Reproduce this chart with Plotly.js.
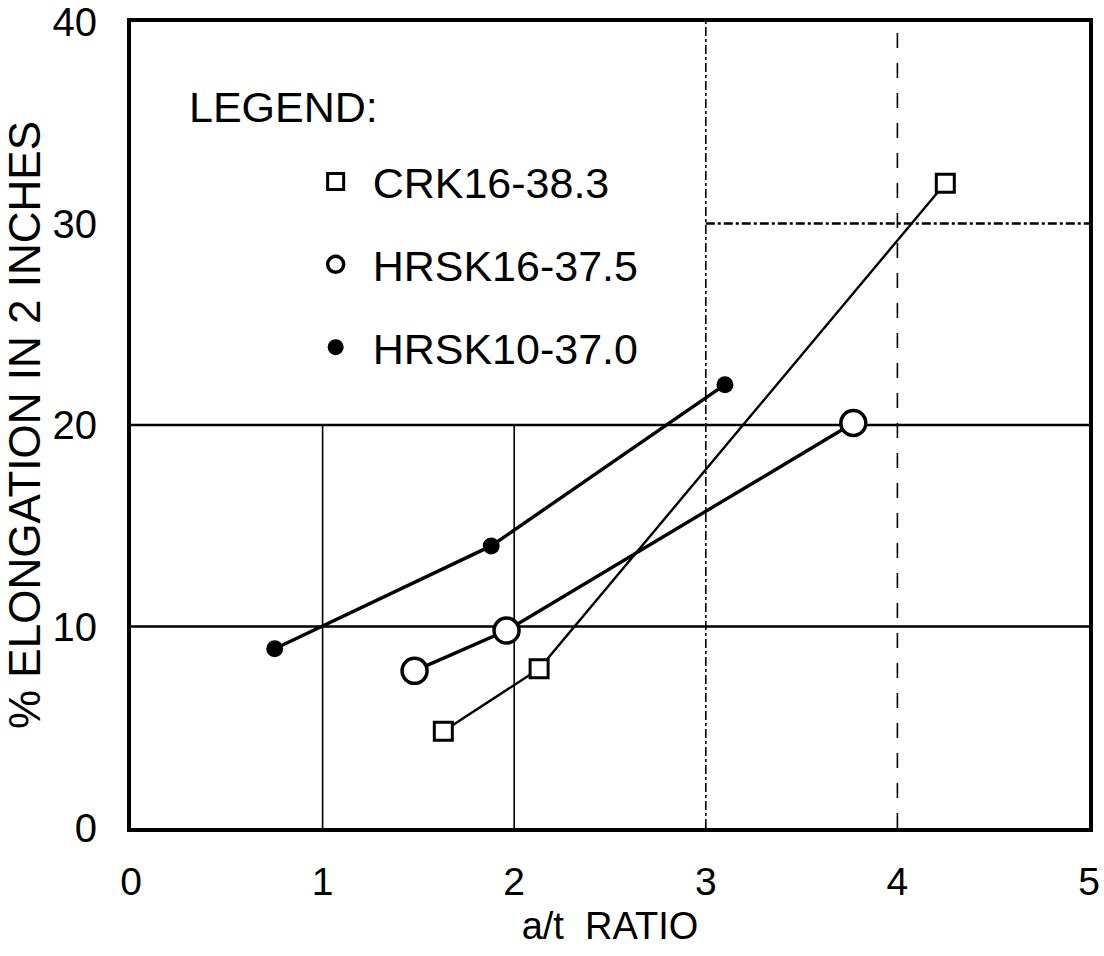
<!DOCTYPE html>
<html>
<head>
<meta charset="utf-8">
<script src="https://cdn.plot.ly/plotly-3.0.1.min.js"></script>
<style>
  html, body { margin: 0; padding: 0; background: #ffffff; }
  #chart { width: 1104px; height: 956px; }
</style>
</head>
<body>
<div id="chart"></div>
<script>
// ---- data ----
const seriesNames = ["CRK16-38.3", "HRSK16-37.5", "HRSK10-37.0"];
const crkX = [1.63, 2.13, 4.25];
const crkY = [4.8, 7.9, 32.0];
const hrsk16X = [1.48, 1.96, 3.77];
const hrsk16Y = [7.8, 9.8, 20.1];
const hrsk10X = [0.75, 1.88, 3.10];
const hrsk10Y = [8.9, 14.0, 22.0];
const xTicks = [0, 1, 2, 3, 4, 5];
const yTicks = [0, 10, 20, 30, 40];

const FONT = "Liberation Sans, Arial, sans-serif";
const INK = "#000000";

function lineTrace(x, y, w, name) {
  return { x: x, y: y, type: "scatter", mode: "lines", name: name,
           line: { color: INK, width: w }, showlegend: false, hoverinfo: "skip" };
}
function markerTrace(x, y, name, marker) {
  return { x: x, y: y, type: "scatter", mode: "markers", name: name,
           legendgroup: name, marker: marker, showlegend: true };
}

const traces = [
  lineTrace(crkX, crkY, 2.4, seriesNames[0]),
  lineTrace(hrsk16X, hrsk16Y, 3.4, seriesNames[1]),
  lineTrace(hrsk10X, hrsk10Y, 3.4, seriesNames[2]),
  markerTrace(crkX, crkY, seriesNames[0],
    { symbol: "square", size: 18, color: "#ffffff", line: { color: INK, width: 3 } }),
  markerTrace(hrsk16X, hrsk16Y, seriesNames[1],
    { symbol: "circle", size: 25, color: "#ffffff", line: { color: INK, width: 3.5 } }),
  markerTrace(hrsk10X, hrsk10Y, seriesNames[2],
    { symbol: "circle", size: 17, color: INK, line: { color: INK, width: 0 } })
];

function vline(x, y0, y1, dash, w) {
  return { type: "line", xref: "x", yref: "y", x0: x, x1: x, y0: y0, y1: y1,
           line: { color: INK, width: w, dash: dash }, layer: "below" };
}
function hline(y, x0, x1, dash, w) {
  return { type: "line", xref: "x", yref: "y", x0: x0, x1: x1, y0: y, y1: y,
           line: { color: INK, width: w, dash: dash }, layer: "below" };
}

const shapes = [
  vline(xTicks[1], yTicks[0], yTicks[2], "solid", 1.6),
  vline(xTicks[2], yTicks[0], yTicks[2], "solid", 1.6),
  vline(xTicks[3], yTicks[0], yTicks[4], "dashdot", 1.6),
  vline(xTicks[4], yTicks[0], yTicks[4], "longdash", 1.6),
  hline(yTicks[1], xTicks[0], xTicks[5], "solid", 2.6),
  hline(yTicks[2], xTicks[0], xTicks[5], "solid", 2.6),
  hline(yTicks[3], xTicks[3], xTicks[5], "dashdot", 2.4)
];

const layout = {
  width: 1104, height: 956,
  margin: { l: 131, r: 15, t: 22, b: 128 },
  paper_bgcolor: "#ffffff", plot_bgcolor: "#ffffff",
  font: { family: FONT, color: INK, size: 40 },
  showlegend: true,
  legend: {
    x: 0.175, y: 0.845, xanchor: "left", yanchor: "top",
    bgcolor: "rgba(0,0,0,0)", borderwidth: 0,
    font: { family: FONT, size: 43, color: INK },
    itemwidth: 64, tracegroupgap: 24, traceorder: "grouped"
  },
  xaxis: {
    range: [0, 5], tickvals: xTicks, ticktext: xTicks.map(String),
    showgrid: false, zeroline: false, ticks: "",
    showline: true, mirror: true, linecolor: INK, linewidth: 4,
    ticklabelstandoff: 16,
    tickfont: { family: FONT, size: 39, color: INK },
    title: { text: "a/t  RATIO", standoff: 12, font: { family: FONT, size: 38, color: INK } }
  },
  yaxis: {
    range: [0, 40], tickvals: yTicks, ticktext: yTicks.map(String),
    showgrid: false, zeroline: false, ticks: "",
    showline: true, mirror: true, linecolor: INK, linewidth: 4,
    ticklabelstandoff: 22,
    tickfont: { family: FONT, size: 40, color: INK },
    title: { text: "% ELONGATION IN 2 INCHES", standoff: 4, font: { family: FONT, size: 44, color: INK } }
  },
  shapes: shapes,
  annotations: [
    { text: "LEGEND:", xref: "paper", yref: "paper", x: 0.058, y: 0.8945,
      xanchor: "left", yanchor: "middle", showarrow: false,
      font: { family: FONT, size: 43, color: INK } }
  ]
};

Plotly.newPlot("chart", traces, layout, { displayModeBar: false, staticPlot: true });
</script>
</body>
</html>
